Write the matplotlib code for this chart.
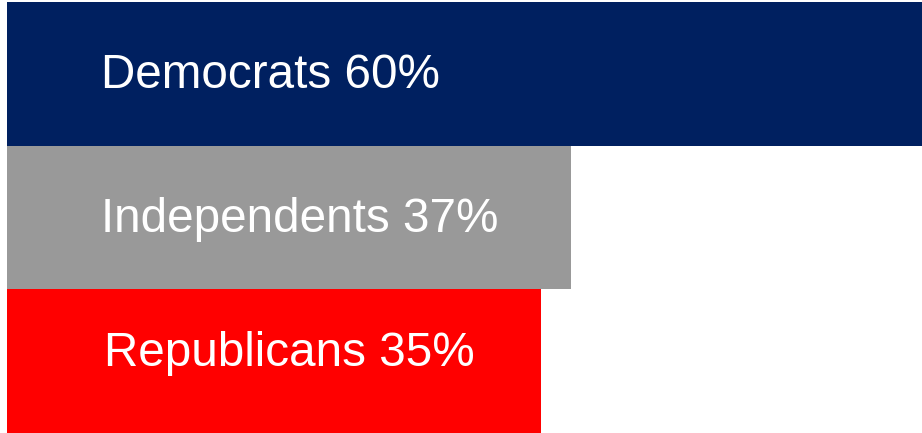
import matplotlib

matplotlib.use("Agg")
import matplotlib.pyplot as plt

# party share values (percent)
parties = ["Democrats", "Independents", "Republicans"]
shares = [60, 37, 35]
colors = ["#002060", "#999999", "#ff0000"]

# label placement: x in percent units, baseline offset within each bar (0 = centre)
label_x = [6.15, 6.15, 6.35]
label_dy = [0.10, 0.10, 0.035]

plt.rcParams["font.family"] = ["Liberation Sans", "DejaVu Sans"]

W, H = 922, 433
fig = plt.figure(figsize=(W / 100, H / 100), dpi=100)
ax = fig.add_axes([7 / W, 0, 1 - 7 / W, 1 - 2 / H])

ypos = list(range(len(parties)))
ax.barh(ypos, shares, height=1.0, color=colors, edgecolor="none")
for y, name, val, lx, dy in zip(ypos, parties, shares, label_x, label_dy):
    ax.text(lx, y + dy, f"{name} {val}%", color="white", fontsize=34.3,
            ha="left", va="baseline")

ax.set_xlim(0, max(shares))
ax.set_ylim(len(parties) - 0.5, -0.5)
ax.axis("off")
fig.savefig("out.png", dpi=100, facecolor="white")
